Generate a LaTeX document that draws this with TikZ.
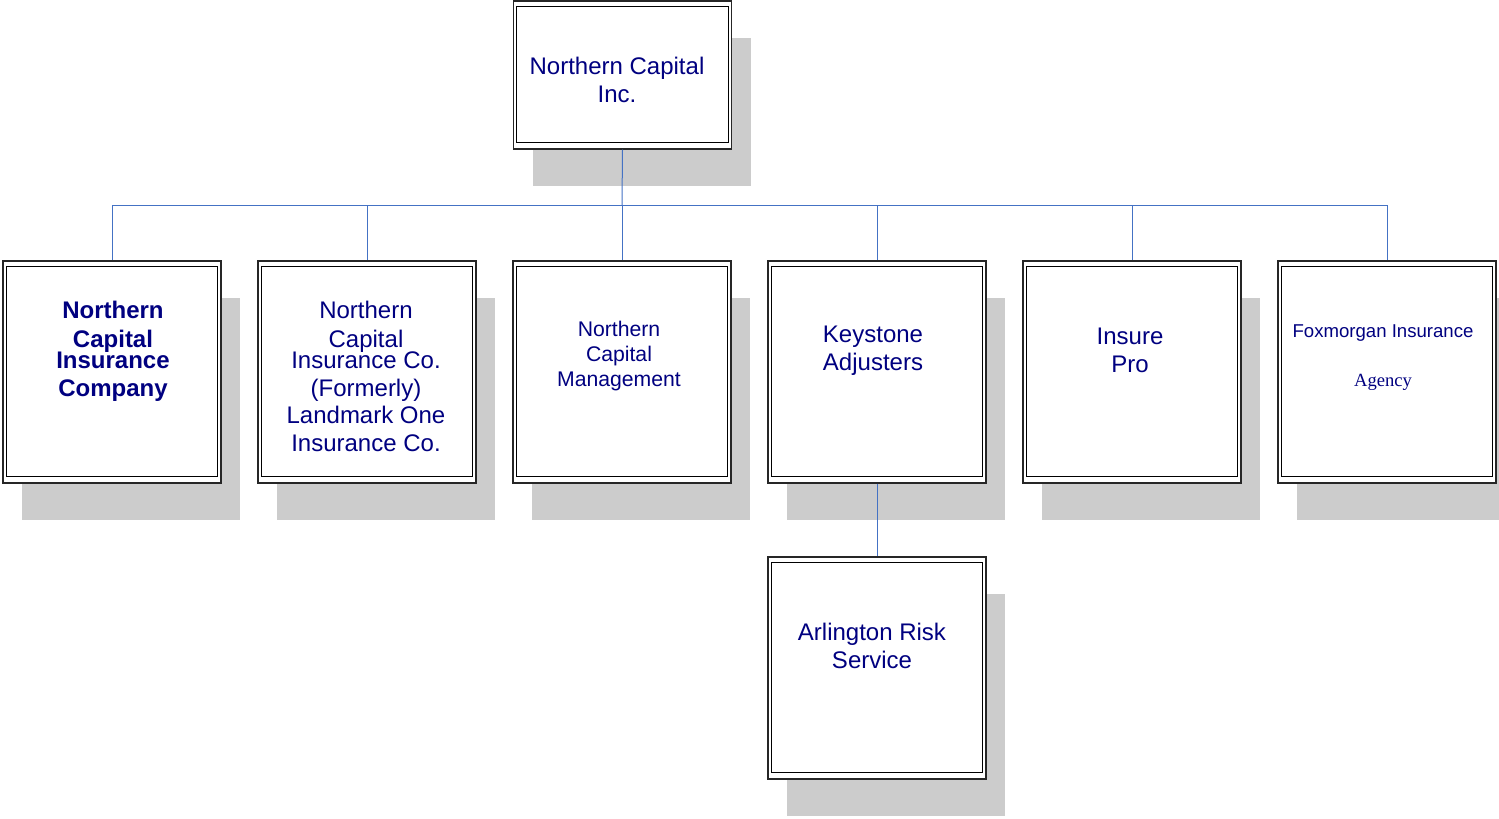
\documentclass[tikz,border=0pt]{standalone}
\usepackage{fontspec}
\setmainfont{Liberation Sans}
\newfontfamily\agencyfont{Liberation Serif}
\usetikzlibrary{shadows}

\definecolor{orgtext}{RGB}{0,0,128}
\definecolor{orgwire}{RGB}{68,114,196}
\definecolor{orgshade}{RGB}{204,204,204}

\begin{document}
\begin{tikzpicture}[x=0.5pt,y=-0.5pt,
    unitbox/.style={draw=black!85,line width=0.6pt,fill=white,
      minimum width=109pt,minimum height=111pt,inner sep=0pt,
      drop shadow={shadow xshift=9.5pt,shadow yshift=-18.5pt,fill=orgshade,opacity=1}},
    topbox/.style={unitbox,minimum height=74pt},
    unittext/.style={text=orgtext,align=center,inner sep=0pt,
      font=\fontsize{12}{14}\selectfont},
    wire/.style={orgwire,line width=0.5pt}]
  \useasboundingbox (0,0) rectangle (1499,819);

  % boxes
  \node[topbox]  (nci)  at (622.5,75)  {};
  \node[unitbox] (ncic) at (112,372)   {};
  \node[unitbox] (ncico) at (367,372)  {};
  \node[unitbox] (ncm)  at (622,372)   {};
  \node[unitbox] (ka)   at (877,372)   {};
  \node[unitbox] (ip)   at (1132,372)  {};
  \node[unitbox] (fia)  at (1387,372)  {};
  \node[unitbox] (ars)  at (877,668)   {};

  % inner frames
  \foreach \nn in {nci,ncic,ncico,ncm,ka,ip,fia,ars}
  {
       \draw[black,line width=0.5pt] ([shift={(4,6)}]\nn.north west) rectangle ([shift={(-4,-7)}]\nn.south east);
  }

  % labels
  \node[unittext] (ncit)  at (617,80)   {Northern Capital\\Inc.};
  \node[unittext,font=\fontsize{12}{14}\selectfont\bfseries] (ncict) at (113,351)
       {Northern\\[0.5pt]Capital\\[-3.5pt]Insurance\\Company};
  \node[unittext] (ncicot) at (366,376)
       {Northern\\[0.5pt]Capital\\[-3.5pt]Insurance Co.\\(Formerly)\\[-0.5pt]Landmark One\\Insurance Co.};
  \node[unittext,font=\fontsize{10.6}{12.3}\selectfont] (ncmt) at (619,356)
       {Northern\\Capital\\Management};
  \node[unittext] (kat)  at (873,351)  {Keystone\\Adjusters};
  \node[unittext] (ipt)  at (1130,350) {Insure\\Pro};
  \node[unittext,font=\fontsize{9.3}{24.5}\selectfont] (fiat) at (1383,358)
       {Foxmorgan Insurance\\{\agencyfont Agency}};
  \node[unittext] (arst) at (872,646)  {Arlington Risk\\Service};

  % connectors
  \coordinate (bus) at (622,205);
  \draw[wire] (nci.south) -- (bus);
  \draw[wire] (ncic.north |- bus) -- (fia.north |- bus);
  \foreach \nn in {ncic,ncico,ncm,ka,ip,fia}
  {
       \draw[wire] (\nn.north |- bus) -- (\nn.north);
  }
  \draw[wire] (ka.south) -- (ars.north);
\end{tikzpicture}
\end{document}
